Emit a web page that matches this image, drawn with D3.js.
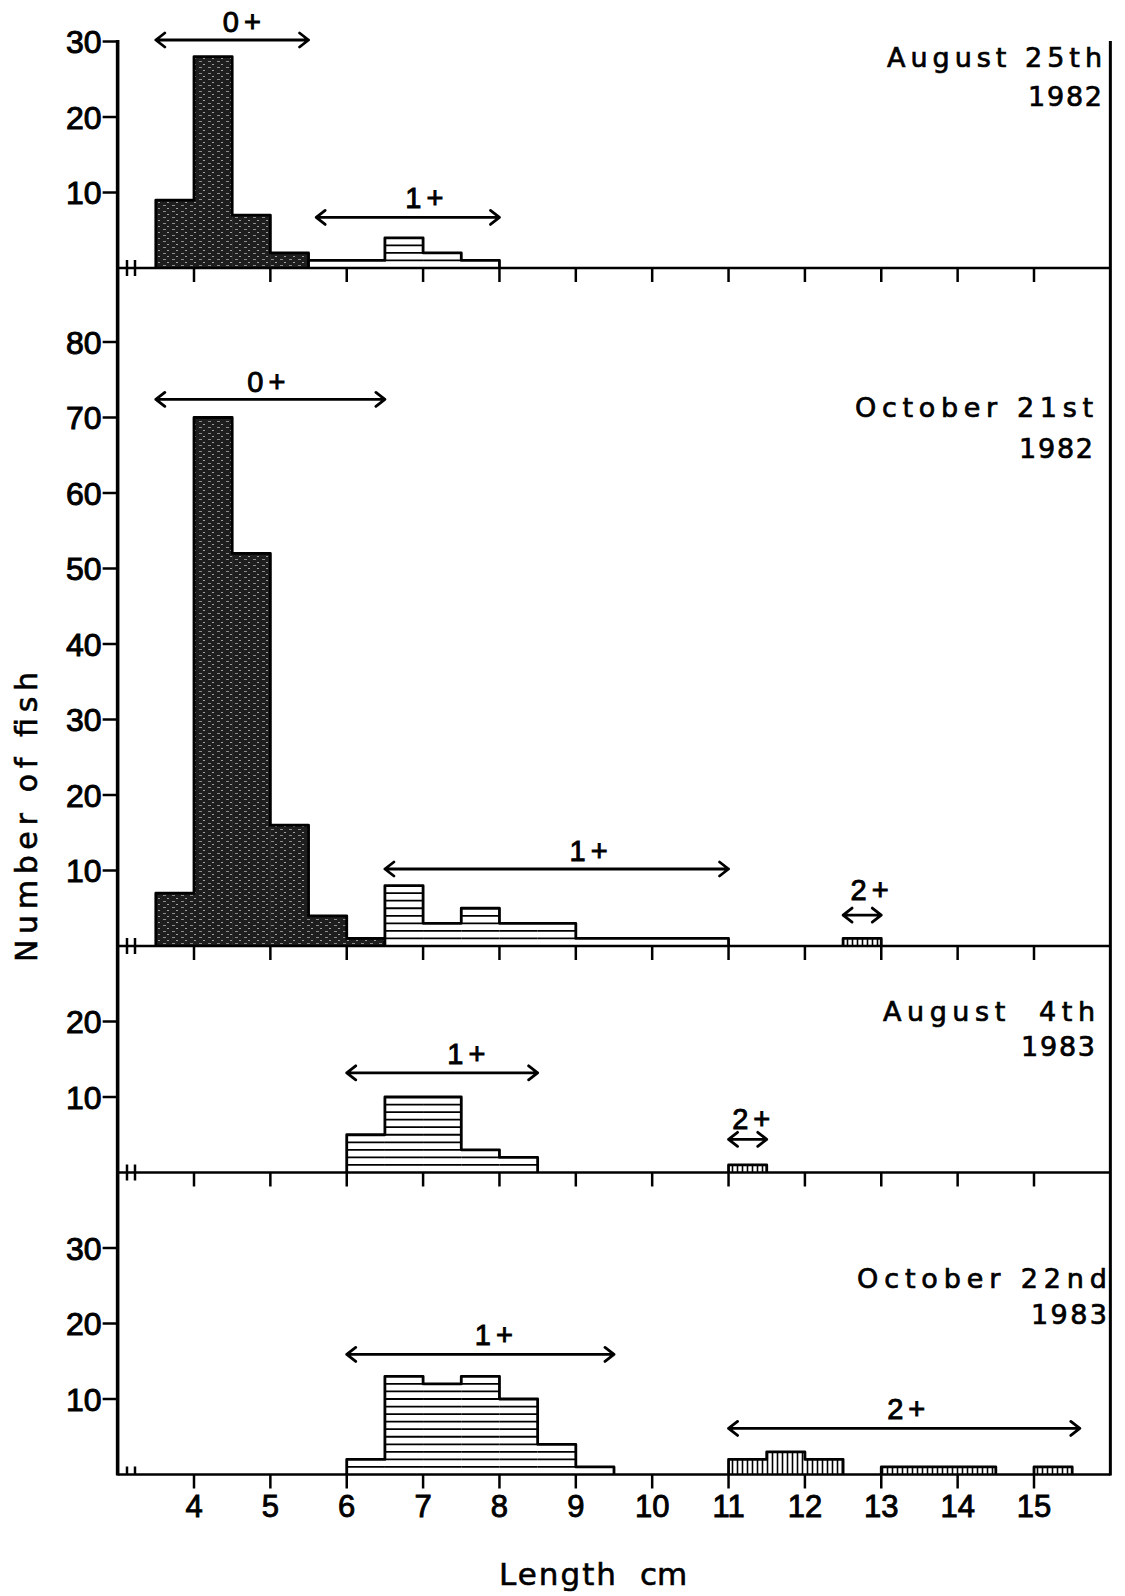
<!DOCTYPE html>
<html>
<head>
<meta charset="utf-8">
<script src="https://cdn.jsdelivr.net/npm/d3@7"></script>
<style>
  body { margin: 0; background: #fff; }
  svg { display: block; font-family: "Liberation Sans", Arial, sans-serif; }
  .wide { font-family: "DejaVu Sans", sans-serif; }
</style>
</head>
<body>
<div id="chart"></div>
<script>
// length classes are 0.5 cm wide, each entry = [lower edge of class (cm), number of fish]
var binWidth = 0.5;

var aug82Age0 = [[3.5, 9], [4.0, 28], [4.5, 7], [5.0, 2]];
var aug82Age1 = [[5.5, 1], [6.0, 1], [6.5, 4], [7.0, 2], [7.5, 1]];

var oct82Age0 = [[3.5, 7], [4.0, 70], [4.5, 52], [5.0, 16], [5.5, 4], [6.0, 1]];
var oct82Age1 = [[6.5, 8], [7.0, 3], [7.5, 5], [8.0, 3], [8.5, 3], [9.0, 1], [9.5, 1], [10.0, 1], [10.5, 1]];
var oct82Age2 = [[12.5, 1]];

var aug83Age1 = [[6.0, 5], [6.5, 10], [7.0, 10], [7.5, 3], [8.0, 2]];
var aug83Age2 = [[11.0, 1]];

var oct83Age1 = [[6.0, 2], [6.5, 13], [7.0, 12], [7.5, 13], [8.0, 10], [8.5, 4], [9.0, 1]];
var oct83Age2 = [[11.0, 2], [11.5, 3], [12.0, 2], [13.0, 1], [13.5, 1], [14.0, 1], [15.0, 1]];

// age class ranges marked by arrows: [label, from cm, to cm]
var aug82Ranges = [["0+", 3.5, 5.5], ["1+", 5.6, 8.0]];
var oct82Ranges = [["0+", 3.5, 6.5], ["1+", 6.5, 11.0], ["2+", 12.5, 13.0]];
var aug83Ranges = [["1+", 6.0, 8.5], ["2+", 11.0, 11.5]];
var oct83Ranges = [["1+", 6.0, 9.5], ["2+", 11.0, 15.6]];

var panelDates = [["August 25th", "1982"], ["October 21st", "1982"], ["August  4th", "1983"], ["October 22nd", "1983"]];

var yTicks1 = [10, 20, 30];
var yTicks2 = [10, 20, 30, 40, 50, 60, 70, 80];
var yTicks3 = [10, 20];
var yTicks4 = [10, 20, 30];
var xTicks = [4, 5, 6, 7, 8, 9, 10, 11, 12, 13, 14, 15];

var xTitle = "Length";
var xUnit = "cm";
var yTitle = "Number of fish";

//layout: arrow heights and label spots in [cm, fish] of each panel, date lines in fish units
var W = 1125, H = 1596;
var unit = 7.55; //px per fish, same in all panels
var plotTop = 40;

var panels = [
  {max: 30.2, ticks: yTicks1, series: [[aug82Age0, "age0"], [aug82Age1, "age1"]], ranges: aug82Ranges,
   arrowAt: [30.2, 6.7], labelAt: [[4.66, 31.2], [7.05, 7.9]],
   date: panelDates[0], dateAt: [26.6, 21.4], dateW: [215, 74], dateR: 1102},
  {max: 89.8, ticks: yTicks2, series: [[oct82Age0, "age0"], [oct82Age1, "age1"], [oct82Age2, "age2"]], ranges: oct82Ranges,
   arrowAt: [72.4, 10.2, 4.1], labelAt: [[4.98, 73.4], [9.2, 11.3], [12.88, 6.1]],
   date: panelDates[1], dateW: [238, 74], dateAt: [70.1, 64.7], dateR: 1093},
  {max: 30.0, ticks: yTicks3, series: [[aug83Age1, "age1"], [aug83Age2, "age2"]], ranges: aug83Ranges,
   arrowAt: [13.2, 4.4], labelAt: [[7.6, 14.4], [11.33, 5.7]],
   date: panelDates[2], dateW: [212, 74], dateAt: [20.1, 15.4], dateR: 1095},
  {max: 40.0, ticks: yTicks4, series: [[oct83Age1, "age1"], [oct83Age2, "age2"]], ranges: oct83Ranges,
   arrowAt: [15.9, 6.1], labelAt: [[7.96, 17.2], [13.36, 7.3]],
   date: panelDates[3], dateW: [250, 76], dateAt: [24.7, 20.0], dateR: 1107}
];

var x = d3.scaleLinear().domain([4, 15]).range([194, 1034]);

var svg = d3.select("#chart").append("svg")
  .attr("width", W)
  .attr("height", H);

//fill patterns
var defs = svg.append("defs");
var stip = defs.append("pattern").attr("id", "age0")
  .attr("patternUnits", "userSpaceOnUse").attr("width", 9).attr("height", 6);
stip.append("rect").attr("width", 9).attr("height", 6).attr("fill", "#1e1e1e");
stip.append("rect").attr("x", 1).attr("y", 1).attr("width", 3).attr("height", 1).attr("fill", "#8c8c8c");
stip.append("rect").attr("x", 5).attr("y", 4).attr("width", 2).attr("height", 1).attr("fill", "#a0a0a0");

var vert = defs.append("pattern").attr("id", "age2")
  .attr("patternUnits", "userSpaceOnUse").attr("width", 5).attr("height", 10);
vert.append("rect").attr("width", 5).attr("height", 10).attr("fill", "#fff");
vert.append("line").attr("x1", 2.5).attr("x2", 2.5).attr("y1", 0).attr("y2", 10)
  .attr("stroke", "#000").attr("stroke-width", 1.6);

var y0 = plotTop;
panels.forEach(function(p) {
  p.y = d3.scaleLinear().domain([0, p.max]).range([y0 + p.max * unit, y0]);
  y0 += p.max * unit;
});
var plotBottom = y0;

// outline of touching classes drawn as one staircase
function stepPath(data, y) {
  var d = "", prevEnd = null;
  data.forEach(function(b, i) {
    if(prevEnd === null || Math.abs(b[0] - prevEnd) > 1e-6) {
      if(prevEnd !== null) d += "V" + y(0);
      d += "M" + x(b[0]) + "," + y(0);
    }
    d += "V" + y(b[1]) + "H" + x(b[0] + binWidth);
    prevEnd = b[0] + binWidth;
  });
  return d + "V" + y(0);
}

panels.forEach(function(p, pi) {
  var g = svg.append("g").attr("class", "panel");
  var y = p.y;

  //bars
  p.series.forEach(function(s) {
    var data = s[0], cls = s[1];
    g.selectAll(null).data(data).enter().append("rect")
      .attr("x", d => x(d[0]))
      .attr("y", d => y(d[1]))
      .attr("width", d => x(d[0] + binWidth) - x(d[0]) + 0.5)
      .attr("height", d => y(0) - y(d[1]))
      .attr("fill", cls == "age1" ? "#fff" : "url(#" + cls + ")");

    if(cls == "age1") {
      //one line per fish
      var lines = [];
      data.forEach(function(d) {
        for(var i = 1; i < d[1]; i++) lines.push([d[0], i]);
      });
      g.selectAll(null).data(lines).enter().append("line")
        .attr("x1", d => x(d[0]))
        .attr("x2", d => x(d[0] + binWidth))
        .attr("y1", d => y(d[1]))
        .attr("y2", d => y(d[1]))
        .attr("stroke", "#000")
        .attr("stroke-width", 1.8);
    }

    g.append("path")
      .attr("d", stepPath(data, y))
      .attr("fill", "none")
      .attr("stroke", "#000")
      .attr("stroke-width", 2.8)
      .attr("stroke-linejoin", "round");
  });

  //baseline + ticks
  g.append("line")
    .attr("x1", x(3)).attr("x2", x(16))
    .attr("y1", y(0)).attr("y2", y(0))
    .attr("stroke", "#000").attr("stroke-width", 2.6);

  g.selectAll(null).data(xTicks).enter().append("line")
    .attr("x1", d => x(d)).attr("x2", d => x(d))
    .attr("y1", y(0)).attr("y2", y(0) + 14)
    .attr("stroke", "#000").attr("stroke-width", 2.5);

  //axis break marks
  [127, 135].forEach(function(bx) {
    g.append("line")
      .attr("x1", bx).attr("x2", bx)
      .attr("y1", y(0) - 8).attr("y2", pi == panels.length - 1 ? y(0) : y(0) + 8)
      .attr("stroke", "#000").attr("stroke-width", 2.5);
  });

  //y ticks
  g.selectAll(null).data(p.ticks).enter().append("line")
    .attr("x1", x(3) - 15).attr("x2", x(3))
    .attr("y1", d => y(d)).attr("y2", d => y(d))
    .attr("stroke", "#000").attr("stroke-width", 2.5);
  g.selectAll(null).data(p.ticks).enter().append("text")
    .attr("x", x(3) - 16)
    .attr("y", d => y(d))
    .attr("dy", "0.36em")
    .attr("text-anchor", "end")
    .attr("font-size", 32)
    .attr("stroke", "#000").attr("stroke-width", 1)
    .text(d => d);

  //age class arrows
  p.ranges.forEach(function(r, ri) {
    var ay = y(p.arrowAt[ri]), xa = x(r[1]), xb = x(r[2]);
    var hl = 9, hw = 7;
    g.append("path")
      .attr("d", "M" + xa + "," + ay + "H" + xb +
        "M" + (xa + hl) + "," + (ay - hw) + "L" + xa + "," + ay + "L" + (xa + hl) + "," + (ay + hw) +
        "M" + (xb - hl) + "," + (ay - hw) + "L" + xb + "," + ay + "L" + (xb - hl) + "," + (ay + hw))
      .attr("fill", "none").attr("stroke", "#000").attr("stroke-width", 2.8)
      .attr("stroke-linecap", "round").attr("stroke-linejoin", "round");
    g.append("text")
      .attr("x", x(p.labelAt[ri][0]))
      .attr("y", y(p.labelAt[ri][1]))
      .attr("text-anchor", "middle")
      .attr("font-size", 29)
      .attr("letter-spacing", 5)
      .attr("stroke", "#000").attr("stroke-width", 0.9)
      .text(r[0]);
  });

  //sampling date
  p.date.forEach(function(t, ti) {
    g.append("text")
      .attr("class", "wide")
      .attr("x", p.dateR)
      .attr("y", y(p.dateAt[ti]))
      .attr("text-anchor", "end")
      .attr("font-size", 27)
      .attr("textLength", p.dateW[ti])
      .attr("lengthAdjust", "spacing")
      .style("white-space", "pre")
      .attr("stroke", "#000").attr("stroke-width", 0.7)
      .text(t);
  });
});

//left axis and right frame
svg.append("line")
  .attr("x1", x(3)).attr("x2", x(3))
  .attr("y1", plotTop).attr("y2", plotBottom + 1)
  .attr("stroke", "#000").attr("stroke-width", 3.6);
svg.append("line")
  .attr("x1", x(16)).attr("x2", x(16))
  .attr("y1", plotTop + 1).attr("y2", plotBottom + 1)
  .attr("stroke", "#000").attr("stroke-width", 3);

//bottom tick labels
var last = panels[panels.length - 1].y;
svg.selectAll(".xlab").data(xTicks).enter().append("text")
  .attr("class", "xlab")
  .attr("x", d => x(d))
  .attr("y", last(0) + 42)
  .attr("text-anchor", "middle")
  .attr("font-size", 31)
  .attr("stroke", "#000").attr("stroke-width", 0.9)
  .text(d => d);

//axis titles
var xt = svg.append("text")
  .attr("class", "wide")
  .attr("x", 499)
  .attr("y", 1585)
  .attr("font-size", 31)
  .attr("stroke", "#000").attr("stroke-width", 0.6);
xt.append("tspan").attr("textLength", 117).attr("lengthAdjust", "spacing").text(xTitle);
xt.append("tspan").attr("x", 640).text(xUnit);

svg.append("text")
  .attr("class", "wide")
  .attr("transform", "translate(37,817) rotate(-90)")
  .attr("text-anchor", "middle")
  .attr("font-size", 30)
  .attr("textLength", 290)
  .attr("lengthAdjust", "spacing")
  .attr("stroke", "#000").attr("stroke-width", 0.6)
  .text(yTitle);
</script>
</body>
</html>
